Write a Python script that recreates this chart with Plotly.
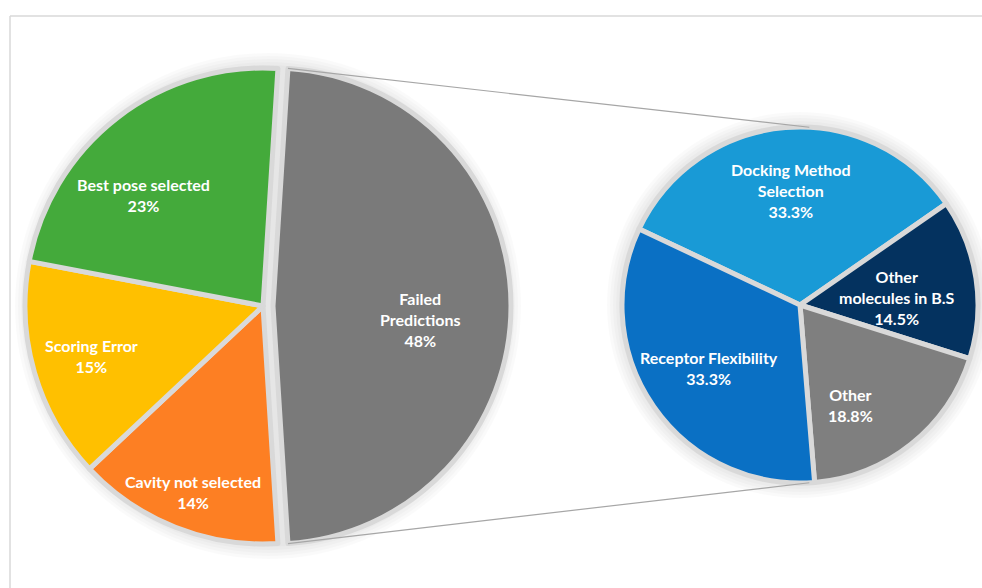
import math
import plotly.graph_objects as go

# ---- data -------------------------------------------------------------
main_labels = ["Failed<br>Predictions", "Cavity not selected", "Scoring Error", "Best pose selected"]
main_values = [48, 14, 15, 23]
main_colors = ["#7a7a7a", "#fd7f23", "#ffc000", "#44aa3b"]

sub_labels = ["Docking Method<br>Selection", "Other<br>molecules in B.S", "Other", "Receptor Flexibility"]
sub_values = [33.3, 14.5, 18.8, 33.3]
sub_colors = ["#199ad6", "#04325f", "#7f7f7f", "#0a70c4"]

# label placement inside each slice: (angle offset from slice middle in deg, fraction of radius)
main_label_place = [(5.4, 0.62), (-1.0, 0.835), (0.0, 0.75), (-9.4, 0.687)]
sub_label_place = [(0.0, 0.643), (4.0, 0.547), (12.0, 0.628), (0.0, 0.62)]

# ---- geometry (pixels) ------------------------------------------------
W, H = 982, 588
L_CX, L_CY, L_R = 263, 306, 238      # main pie
PULL_PX = 10                          # explode distance of the failed slice
R_CX, R_CY, R_R = 800, 305, 178      # breakdown pie

pull = PULL_PX / L_R
main_rot = 90 - 360 * main_values[0] / sum(main_values) / 2   # failed slice centred on 3 o'clock
sub_rot = -64.7


def px_to_paper_x(x):
    return x / W


def px_to_paper_y(y):
    return 1 - y / H


def domain(cx, cy, half):
    return dict(x=[px_to_paper_x(cx - half), px_to_paper_x(cx + half)],
                y=[px_to_paper_y(cy + half), px_to_paper_y(cy - half)])


fig = go.Figure()
slice_line = dict(color="#d9d9d9", width=5)

fig.add_trace(go.Pie(
    labels=main_labels, values=main_values, sort=False, direction="clockwise",
    rotation=main_rot, pull=[pull, 0, 0, 0],
    marker=dict(colors=main_colors, line=slice_line),
    textinfo="none",
    domain=domain(L_CX, L_CY, L_R * (1 + pull)),
    hoverinfo="skip", showlegend=False,
))

fig.add_trace(go.Pie(
    labels=sub_labels, values=sub_values, sort=False, direction="clockwise",
    rotation=sub_rot,
    marker=dict(colors=sub_colors, line=slice_line),
    textinfo="none",
    domain=domain(R_CX, R_CY, R_R),
    hoverinfo="skip", showlegend=False,
))

# ---- slice labels ------------------------------------------------------
annotations = []
label_font = dict(family="Lato", size=16, color="white")


def add_labels(labels, values, rot, cx, cy, r, places, pulls):
    total = sum(values)
    start = rot
    for lab, val, (da, fr), pl in zip(labels, values, places, pulls):
        span = 360 * val / total
        mid = start + span / 2
        ang = math.radians(mid + da)
        mr = math.radians(mid)
        ox = cx + pl * math.sin(mr)
        oy = cy - pl * math.cos(mr)
        x = ox + fr * r * math.sin(ang)
        y = oy - fr * r * math.cos(ang)
        text = "<br>".join(f"<b>{part}</b>" for part in lab.split("<br>")) + f"<br><b>{val:g}%</b>"
        annotations.append(dict(x=px_to_paper_x(x), y=px_to_paper_y(y), xref="paper", yref="paper",
                                text=text, showarrow=False, font=label_font,
                                xanchor="center", yanchor="middle", align="center"))
        start += span


add_labels(main_labels, main_values, main_rot, L_CX, L_CY, L_R, main_label_place,
           [PULL_PX, 0, 0, 0])
add_labels(sub_labels, sub_values, sub_rot, R_CX, R_CY, R_R, sub_label_place, [0, 0, 0, 0])

shapes = []

# soft halo behind both pies
for cx, cy, r in [(L_CX + PULL_PX / 2, L_CY, L_R), (R_CX, R_CY, R_R)]:
    for k in range(1, 6):
        rr = r + 3 * k
        shapes.append(dict(type="circle", xref="paper", yref="paper", layer="below",
                           x0=px_to_paper_x(cx - rr), x1=px_to_paper_x(cx + rr),
                           y0=px_to_paper_y(cy + rr), y1=px_to_paper_y(cy - rr),
                           fillcolor="rgba(0,0,0,0.02)", line=dict(width=0)))

# connector lines from the exploded slice to the breakdown pie
a0 = math.radians(main_rot)
a1 = math.radians(main_rot + 360 * main_values[0] / sum(main_values))
pcx = L_CX + PULL_PX
ends = [math.radians(3), math.radians(177)]
for a, b in [(a0, ends[0]), (a1, ends[1])]:
    x0 = pcx + L_R * math.sin(a)
    y0 = L_CY - L_R * math.cos(a)
    x1 = R_CX + R_R * math.sin(b)
    y1 = R_CY - R_R * math.cos(b)
    shapes.append(dict(type="line", xref="paper", yref="paper",
                       x0=px_to_paper_x(x0), y0=px_to_paper_y(y0),
                       x1=px_to_paper_x(x1), y1=px_to_paper_y(y1),
                       line=dict(color="#a6a6a6", width=1.2)))

# chart frame (top and left edges)
shapes.append(dict(type="line", xref="paper", yref="paper",
                   x0=px_to_paper_x(10), x1=1, y0=px_to_paper_y(16), y1=px_to_paper_y(16),
                   line=dict(color="#d9d9d9", width=1.5)))
shapes.append(dict(type="line", xref="paper", yref="paper",
                   x0=px_to_paper_x(10), x1=px_to_paper_x(10), y0=px_to_paper_y(16), y1=0,
                   line=dict(color="#d9d9d9", width=1.5)))

fig.update_layout(
    width=W, height=H, margin=dict(l=0, r=0, t=0, b=0),
    paper_bgcolor="white", plot_bgcolor="white",
    shapes=shapes, annotations=annotations, showlegend=False,
)

fig.write_html("out.html")
